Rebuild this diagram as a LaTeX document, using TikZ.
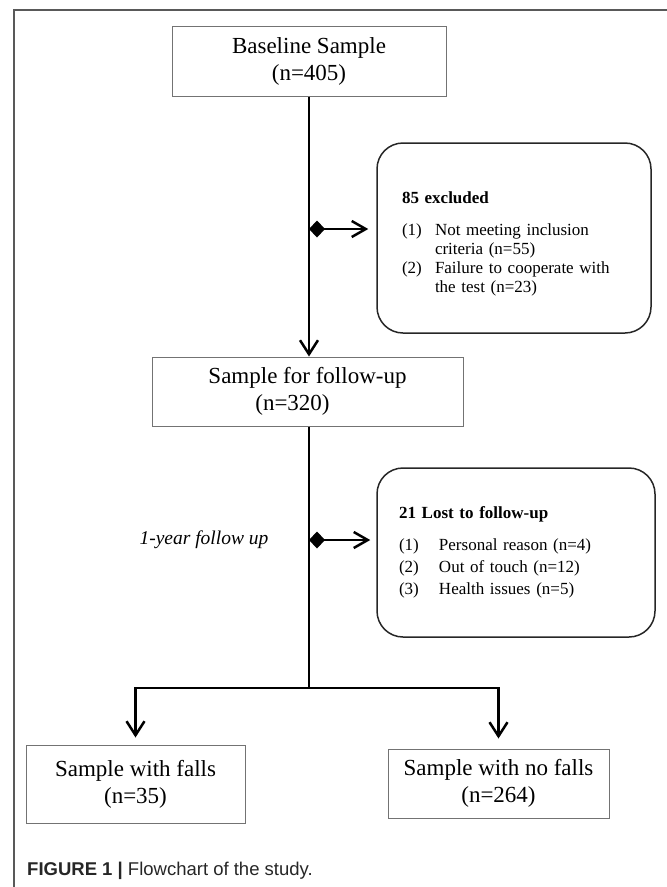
\documentclass[tikz,border=0pt]{standalone}
\usepackage{fontspec}
\setmainfont{Liberation Serif}
\newfontfamily\capfont{Liberation Sans}
\usetikzlibrary{arrows.meta}

\newcommand{\flowitem}[3][33pt]{\par\hangindent=#1\hangafter=1\noindent\makebox[#1][l]{#2}#3}

\tikzstyle{samplebox}=[rectangle,
                       draw=black!55,
                       line width=1pt,
                       inner sep=0pt,
                       align=center,
                       font=\fontsize{23}{27}\selectfont]
\tikzstyle{notebox}=[rectangle,
                     rounded corners=26pt,
                     draw=black!85,
                     line width=1.5pt,
                     align=left,
                     inner ysep=0pt]
\tikzstyle{flowline}=[line width=2.5pt,
                      -{Straight Barb[length=14pt,width=18pt,line width=2.5pt]}]
\tikzstyle{sideline}=[line width=2.5pt,
                      {Diamond[length=16pt,width=17pt]}-{Straight Barb[length=14pt,width=16pt,line width=2.5pt]}]

\begin{document}
\begin{tikzpicture}[x=1pt,y=-1pt]
    \useasboundingbox (0,0) rectangle (667,887);
    \draw [line width=1.2pt, black!65] (667,10) -- (14,10) -- (14,887);

    \node [samplebox, minimum width=274pt, minimum height=70pt] (base) at (309,61) {Baseline Sample\\(n=405)};
    \node [samplebox, minimum width=311pt, minimum height=69pt] (follow) at (307.5,391.5) {Sample for follow-up\\(n=320)\hspace*{30pt}};
    \node [samplebox, minimum width=219pt, minimum height=78pt] (falls) at (135.5,784) {Sample with falls\\(n=35)};
    \node [samplebox, minimum width=221pt, minimum height=69pt] (nofalls) at (498.5,783.5) {Sample with no falls\\(n=264)};

    \node [notebox, text width=224pt, inner xsep=25pt, minimum height=190pt, font=\fontsize{17}{19}\selectfont] (excluded) at (514,238)
        {\par\vspace*{5pt}\noindent\textbf{85 excluded}\par\vspace{13pt}
         \flowitem{(1)}{Not meeting inclusion\newline criteria (n=55)}
         \flowitem{(2)}{Failure to cooperate with\newline the test (n=23)}\par};
    \node [notebox, text width=234pt, inner xsep=22pt, minimum height=169pt, font=\fontsize{17}{22}\selectfont] (lost) at (516,552.5)
        {\textbf{21 Lost to follow-up}\par\vspace{10pt}
         \flowitem[40pt]{(1)}{Personal reason (n=4)}
         \flowitem[40pt]{(2)}{Out of touch (n=12)}
         \flowitem[40pt]{(3)}{Health issues (n=5)}\par};

    \node [font=\fontsize{19.5}{22}\selectfont\itshape] (year) at (204,540) {1-year follow up};

    \coordinate (cut1) at (309,229);
    \coordinate (cut2) at (309,540);
    \coordinate (fork) at (309,688);

    \draw [flowline] (base.south) -- (base.south |- follow.north);
    \draw [sideline, shorten >=8pt] (cut1) -- (cut1 -| excluded.west);
    \draw [line width=2.5pt] (base.south |- follow.south) -- (fork);
    \draw [sideline, shorten >=6pt] (cut2) -- (cut2 -| lost.west);
    \draw [flowline, shorten >=7pt] (fork) -| (falls.north);
    \draw [flowline, shorten >=10pt] (fork) -| (nofalls.north);

    \node [anchor=base west, inner sep=0pt, text=black!85, font=\capfont\fontsize{18.5}{22}\selectfont] (caption) at (27,875)
        {\textbf{FIGURE 1 |} Flowchart of the study.};
\end{tikzpicture}
\end{document}
